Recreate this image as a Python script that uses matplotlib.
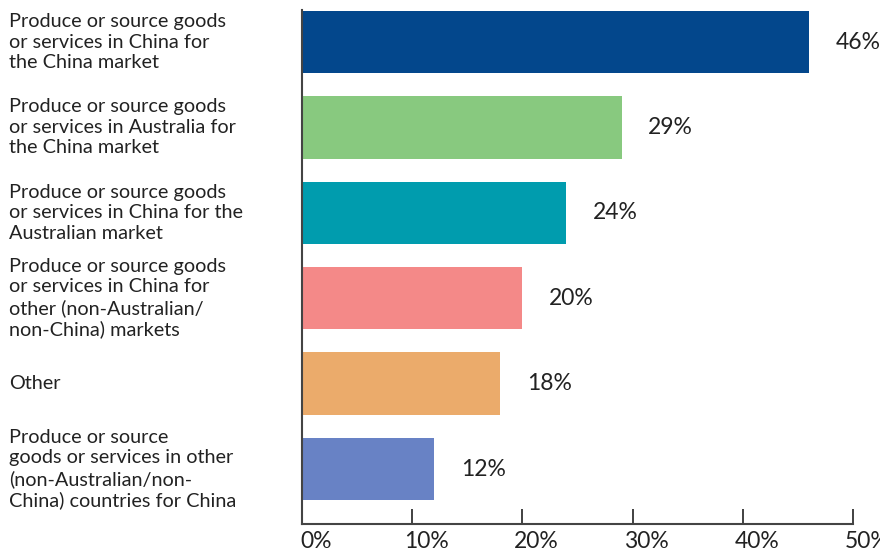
import matplotlib
matplotlib.use("Agg")
import matplotlib.pyplot as plt
import matplotlib.transforms as mtransforms

categories = [
    "Produce or source goods\nor services in China for\nthe China market",
    "Produce or source goods\nor services in Australia for\nthe China market",
    "Produce or source goods\nor services in China for the\nAustralian market",
    "Produce or source goods\nor services in China for\nother (non-Australian/\nnon-China) markets",
    "Other",
    "Produce or source\ngoods or services in other\n(non-Australian/non-\nChina) countries for China",
]
values = [46, 29, 24, 20, 18, 12]
colors = ["#03478c", "#88c97f", "#009cae", "#f48988", "#ebab6b", "#6882c5"]
xticks = [0, 10, 20, 30, 40, 50]
xticklabels = ["0%", "10%", "20%", "30%", "40%", "50%"]

plt.rcParams['font.family'] = ['Lato', 'DejaVu Sans']
W, H = 880, 554
fig = plt.figure(figsize=(W / 100, H / 100), dpi=100)
ax = fig.add_axes([302 / W, (H - 524) / H, 551 / W, (524 - 10) / H])

ypos = list(range(len(values)))
ax.barh(ypos, values, height=0.73, color=colors, zorder=2)
ax.set_ylim(len(values) - 1 + 0.644, -0.375)
ax.set_xlim(0, 50)

for y, v in zip(ypos, values):
    ax.text(v + 2.4, y, f"{v}%", va="center", ha="left", fontsize=16.5, color="#222222")

ax.set_xticks(xticks)
ax.set_xticklabels(xticklabels, fontsize=16.5, color="#222222")
ax.tick_params(axis="x", direction="in", length=11, width=1.3, color="#333333", pad=5)
offset = mtransforms.ScaledTranslation(14 / 100, 0, fig.dpi_scale_trans)
for lbl in ax.get_xticklabels():
    lbl.set_transform(lbl.get_transform() + offset)
ax.set_yticks([])
for s in ["top", "right"]:
    ax.spines[s].set_visible(False)
for s in ["left", "bottom"]:
    ax.spines[s].set_color("#444444")
    ax.spines[s].set_linewidth(1.5)

for y, lab in zip(ypos, categories):
    yfig = ax.transData.transform((0, y))[1]
    fig.text(9 / W, yfig / H, lab, ha="left", va="center", fontsize=14.3,
             color="#222222", linespacing=1.25, transform=fig.transFigure)

fig.savefig("out.png", dpi=100)
